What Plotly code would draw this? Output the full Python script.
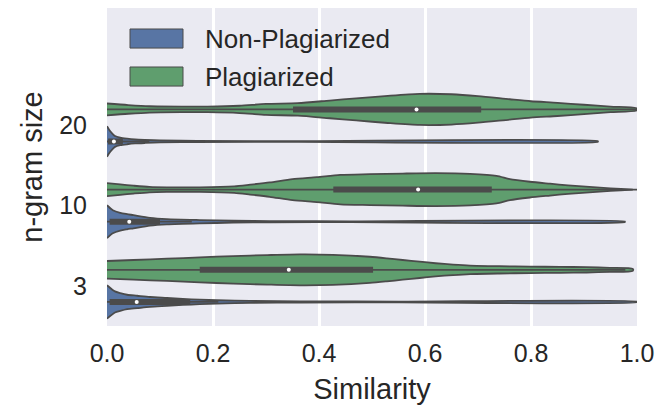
import plotly.graph_objects as go

# ---------------- data ----------------
categories = ["3", "10", "20"]
hues = ["Non-Plagiarized", "Plagiarized"]

# density profiles (value on x axis, relative half-width)
g20_x = [0.00, 0.04, 0.08, 0.14, 0.19, 0.25, 0.30, 0.36, 0.42, 0.47, 0.53, 0.59, 0.65, 0.70, 0.76, 0.80, 0.85, 0.90, 0.95, 1.00]
g20_d = [6.0, 4.4, 3.2, 2.8, 2.8, 3.7, 5.6, 6.4, 9.0, 11.2, 13.8, 15.8, 15.4, 13.5, 10.3, 8.3, 6.7, 4.7, 2.8, 1.0]
b20_x = [0.00, 0.004, 0.01, 0.015, 0.025, 0.038, 0.053, 0.072, 0.10, 0.17, 0.36, 0.926]
b20_d = [15.5, 12.0, 8.0, 5.5, 3.8, 2.8, 2.0, 1.5, 1.0, 0.6, 0.4, 0.3]

g10_x = [0.00, 0.025, 0.05, 0.08, 0.113, 0.175, 0.24, 0.27, 0.307, 0.35, 0.396, 0.44, 0.496, 0.558, 0.62, 0.685, 0.735, 0.76, 0.798, 0.836, 0.87, 0.91, 0.95, 0.992]
g10_d = [6.7, 5.3, 4.0, 2.7, 2.3, 2.3, 3.3, 5.0, 7.3, 10.7, 12.7, 15.0, 15.7, 16.3, 16.7, 16.0, 14.0, 10.7, 8.0, 6.0, 4.3, 2.7, 1.3, 0.0]
b10_x = [0.00, 0.011, 0.025, 0.038, 0.05, 0.081, 0.113, 0.175, 0.238, 0.307, 0.458, 0.977]
b10_d = [16.7, 11.7, 9.0, 7.7, 6.7, 4.0, 2.7, 1.7, 1.0, 0.6, 0.4, 0.3]

g3_x = [0.00, 0.05, 0.113, 0.175, 0.238, 0.302, 0.364, 0.426, 0.496, 0.528, 0.558, 0.59, 0.62, 0.653, 0.685, 0.74, 0.798, 0.855, 0.905, 0.949, 0.992]
g3_d = [9.0, 10.0, 11.3, 12.7, 14.0, 15.0, 15.7, 15.3, 13.3, 11.7, 10.0, 8.3, 6.7, 5.3, 4.3, 3.7, 3.3, 3.0, 2.7, 2.0, 1.0]
b3_x = [0.00, 0.015, 0.025, 0.038, 0.057, 0.081, 0.113, 0.143, 0.175, 0.207, 0.27, 0.364, 0.55, 1.00]
b3_d = [17.0, 10.7, 9.0, 7.3, 6.3, 5.0, 4.0, 3.0, 2.3, 1.7, 1.0, 0.6, 0.4, 0.3]

# inner box statistics [3, 10, 20]
green_median = [0.343, 0.587, 0.584]
green_q1 = [0.175, 0.427, 0.351]
green_q3 = [0.502, 0.726, 0.706]
green_wlo = [0.00, 0.00, 0.00]
green_whi = [0.978, 1.00, 1.00]

blue_median = [0.056, 0.042, 0.013]
blue_q1 = [0.005, 0.005, 0.002]
blue_q3 = [0.157, 0.100, 0.030]
blue_wlo = [0.00, 0.00, 0.00]
blue_whi = [0.21, 0.16, 0.08]

x_ticks = [0.0, 0.2, 0.4, 0.6, 0.8, 1.0]

# ---------------- styling ----------------
BLUE = "#5875A4"
GREEN = "#5F9E6E"
GRAY = "#4B4B4B"
BG = "#EAEAF2"
FONT = "Liberation Sans, Arial, sans-serif"
SCALE = 0.2 / 16.3   # half-width in category units per density unit
OFFSET = 0.2

green_profiles = [(g3_x, g3_d), (g10_x, g10_d), (g20_x, g20_d)]
blue_profiles = [(b3_x, b3_d), (b10_x, b10_d), (b20_x, b20_d)]

fig = go.Figure()


def add_violin(xs, ds, center, color):
    top = [center + d * SCALE for d in ds]
    bot = [center - d * SCALE for d in ds]
    fig.add_trace(go.Scatter(
        x=list(xs) + list(xs[::-1]),
        y=top + bot[::-1],
        mode="lines", fill="toself", fillcolor=color,
        line=dict(color=GRAY, width=1.8, shape="spline", smoothing=0.7),
        hoverinfo="skip", showlegend=False))


def add_inner(center, wlo, whi, q1, q3, med):
    fig.add_trace(go.Scatter(x=[wlo, whi], y=[center, center], mode="lines",
                             line=dict(color=GRAY, width=1.8), hoverinfo="skip", showlegend=False))
    fig.add_trace(go.Scatter(x=[q1, q3], y=[center, center], mode="lines",
                             line=dict(color=GRAY, width=6), hoverinfo="skip", showlegend=False))
    fig.add_trace(go.Scatter(x=[med], y=[center], mode="markers",
                             marker=dict(color="white", size=4, line=dict(width=0)),
                             hoverinfo="skip", showlegend=False))


for i, cat in enumerate(categories):
    gc = i + OFFSET
    bc = i - OFFSET
    add_violin(*green_profiles[i], gc, GREEN)
    add_inner(gc, green_wlo[i], green_whi[i], green_q1[i], green_q3[i], green_median[i])
    add_violin(*blue_profiles[i], bc, BLUE)
    add_inner(bc, blue_wlo[i], blue_whi[i], blue_q1[i], blue_q3[i], blue_median[i])

# ---------------- legend drawn as boxes + text ----------------
legend_items = [(hues[0], BLUE), (hues[1], GREEN)]
for k, (name, col) in enumerate(legend_items):
    y_top = 0.934 - k * 0.1195
    fig.add_shape(type="rect", xref="x domain", yref="y domain",
                  x0=0.0434, x1=0.1434, y0=y_top - 0.060, y1=y_top,
                  fillcolor=col, line=dict(color=GRAY, width=1))
    fig.add_annotation(xref="x domain", yref="y domain", x=0.181, y=y_top - 0.030,
                       text=name, showarrow=False, xanchor="left", yanchor="middle",
                       font=dict(family=FONT, size=26, color="#262626"))

# the page body adds an 8px margin, so the figure is sized to compensate
fig.update_layout(
    width=656, height=404,
    margin=dict(l=99, r=27, t=0, b=86, autoexpand=False),
    paper_bgcolor="white", plot_bgcolor=BG,
    font=dict(family=FONT, color="#262626"),
    showlegend=False,
)
fig.update_xaxes(
    range=[0, 1], tickvals=x_ticks, tickformat=".1f", automargin=False,
    showgrid=True, gridcolor="white", gridwidth=2.5, zeroline=False, showline=False,
    ticks="outside", ticklen=5, tickcolor="rgba(0,0,0,0)",
    tickfont=dict(family=FONT, size=25, color="#262626"),
    title=dict(text="Similarity", font=dict(family=FONT, size=29, color="#262626"), standoff=12),
)
fig.update_yaxes(
    range=[-0.5, 3.464], tickvals=[0, 1, 2], ticktext=categories, automargin=False,
    showgrid=False, zeroline=False, showline=False,
    ticks="outside", ticklen=14, tickcolor="rgba(0,0,0,0)",
    tickfont=dict(family=FONT, size=25, color="#262626"),
    title=dict(text="n-gram size", font=dict(family=FONT, size=29, color="#262626"), standoff=8),
)

fig.write_html("out.html")
